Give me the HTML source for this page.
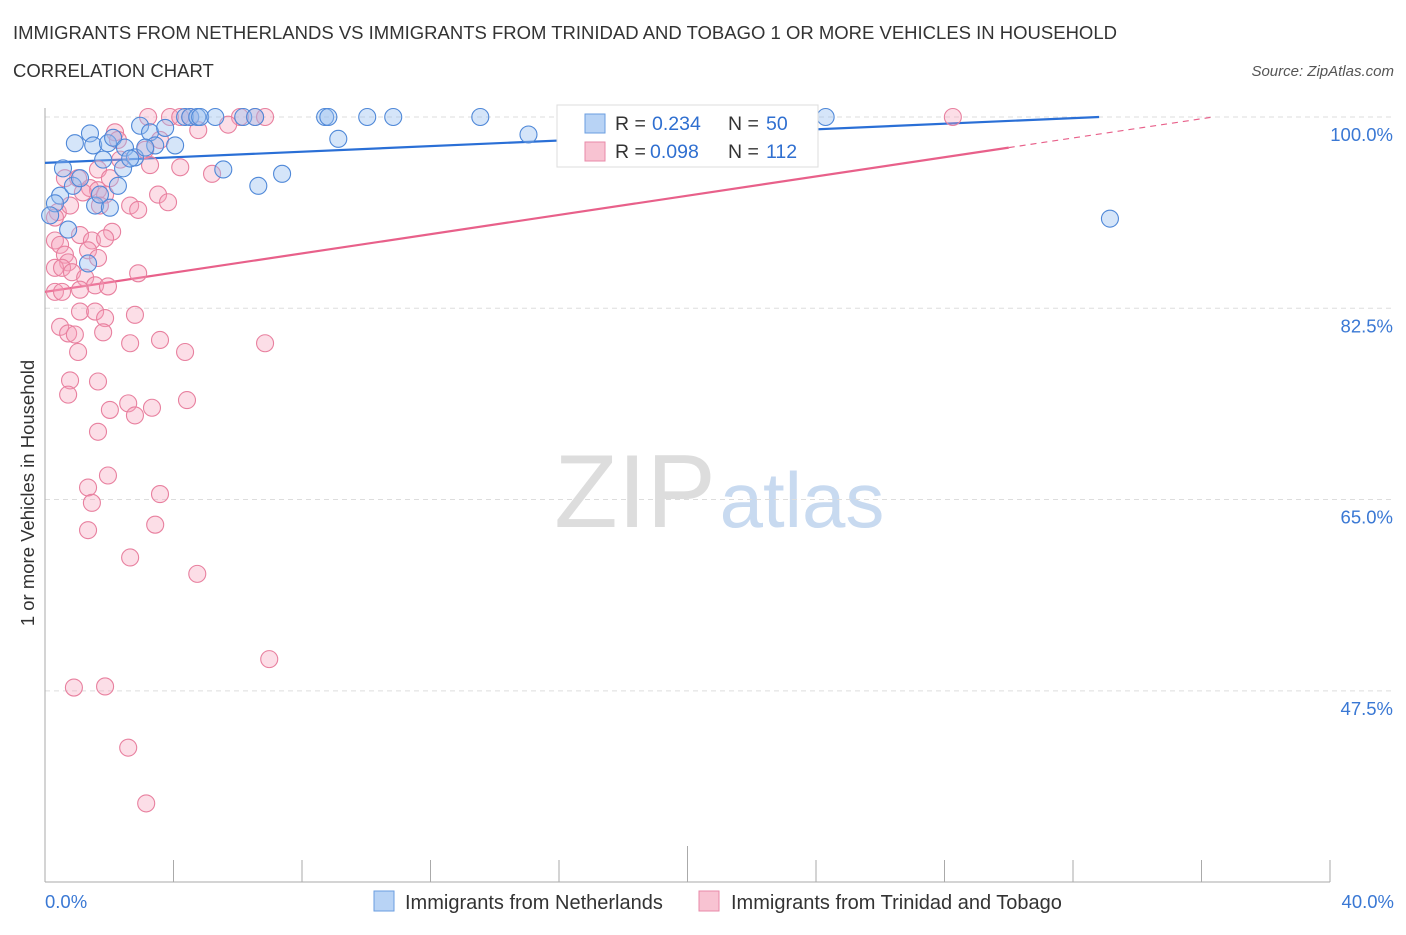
<!DOCTYPE html>
<html><head><meta charset="utf-8">
<style>
body{margin:0;background:#fff;font-family:"Liberation Sans",sans-serif;}
svg text{font-family:"Liberation Sans",sans-serif;}
</style></head>
<body>
<svg id="chart" width="1406" height="930" viewBox="0 0 1406 930" xmlns="http://www.w3.org/2000/svg">
<text x="13" y="39" font-size="18.5" fill="#333">IMMIGRANTS FROM NETHERLANDS VS IMMIGRANTS FROM TRINIDAD AND TOBAGO 1 OR MORE VEHICLES IN HOUSEHOLD</text>
<text x="13" y="77" font-size="18.5" fill="#333">CORRELATION CHART</text>
<text x="1394" y="76" font-size="15" font-style="italic" fill="#555" text-anchor="end">Source: ZipAtlas.com</text>
<text x="635" y="527" font-size="104" font-family="Liberation Serif" fill="#ddd" text-anchor="middle">ZIP</text>
<text x="802" y="527" font-size="78" fill="#c8daf0" text-anchor="middle">atlas</text>
<text transform="translate(34,493) rotate(-90)" font-size="18.5" fill="#333" text-anchor="middle">1 or more Vehicles in Household</text>
<g id="grid"></g><g id="axes"></g><g id="trend"></g><g id="pts"></g>
<g>
<rect x="557" y="105" width="261" height="62" fill="#fff" stroke="#ddd"/>
<rect x="585" y="114" width="20" height="19" fill="#b8d3f5" stroke="#6a9ee0"/>
<text x="615" y="130" font-size="19.5" fill="#333">R =</text>
<text x="652" y="130" font-size="19.5" fill="#2f6fd0">0.234</text>
<text x="728" y="130" font-size="19.5" fill="#333">N =</text>
<text x="766" y="130" font-size="19.5" fill="#2f6fd0">50</text>
<rect x="585" y="142" width="20" height="19" fill="#f8c3d2" stroke="#e88aa8"/>
<text x="615" y="158" font-size="19.5" fill="#333">R =</text>
<text x="650" y="158" font-size="19.5" fill="#2f6fd0">0.098</text>
<text x="728" y="158" font-size="19.5" fill="#333">N =</text>
<text x="766" y="158" font-size="19.5" fill="#2f6fd0">112</text>
</g>
<g>
<rect x="374" y="891" width="20" height="20" fill="#b8d3f5" stroke="#6a9ee0"/>
<text x="405" y="909" font-size="20" fill="#333">Immigrants from Netherlands</text>
<rect x="699" y="891" width="20" height="20" fill="#f8c3d2" stroke="#e88aa8"/>
<text x="731" y="909" font-size="20" fill="#333">Immigrants from Trinidad and Tobago</text>
</g>
</svg>
<script>
const xTicks=[0,4,8,12,16,20,24,28,32,36,40];
const yTicks=[100,82.5,65,47.5];
const yTickLabels=["100.0%","82.5%","65.0%","47.5%"];
const blueX=[0.56,0.47,0.31,0.93,1.40,1.50,1.96,2.12,2.49,2.80,2.96,3.27,3.43,3.74,4.05,1.81,2.43,2.27,0.87,1.56,2.02,0.72,1.34,4.36,4.52,4.74,4.83,5.30,6.17,6.54,8.72,8.82,10.03,10.84,13.55,16.51,24.30,9.13,15.05,6.64,7.38,5.55,33.15,0.16,1.09,1.71,2.65,3.12];
const blueY=[95.3,92.8,92.1,97.6,98.5,97.4,97.6,98.1,97.2,96.3,99.2,98.6,97.4,99.0,97.4,96.1,95.3,93.7,93.7,91.9,91.7,89.7,86.6,100,100,100,100,100,100,100,100,100,100,100,100,100,100,98.0,98.4,93.7,94.8,95.2,90.7,91.0,94.4,92.9,96.2,97.2];
const pinkX=[3.21,3.89,4.21,4.52,6.07,6.54,6.85,28.26,4.77,5.70,2.18,2.27,3.58,3.12,2.34,3.27,4.21,5.20,0.62,1.03,1.65,2.02,1.40,1.65,1.87,1.18,1.71,2.65,2.90,3.52,3.83,0.40,0.31,0.78,2.09,1.09,1.46,1.87,0.31,0.47,1.34,0.62,0.72,1.65,0.31,0.53,0.84,1.25,1.56,2.90,0.31,0.53,1.09,1.96,1.09,1.56,1.87,2.80,0.47,0.72,0.93,1.03,1.81,2.65,3.58,4.36,6.85,0.78,1.65,0.72,2.02,2.59,2.80,3.33,4.42,1.65,1.96,1.34,1.46,3.58,1.34,3.43,2.65,4.74,6.98,0.90,1.87,2.59,3.15];
const pinkY=[100,100,100,100,100,100,100,100,98.8,99.3,98.6,97.9,97.9,97.0,96.1,95.6,95.4,94.8,94.4,94.4,95.2,94.4,93.5,93.3,92.9,93.1,91.9,91.9,91.5,92.9,92.2,91.3,90.8,91.9,89.5,89.2,88.7,88.9,88.7,88.3,87.8,87.4,86.7,87.1,86.2,86.2,85.8,85.3,84.6,85.7,84.0,84.0,84.2,84.5,82.2,82.2,81.6,81.9,80.8,80.2,80.1,78.5,80.3,79.3,79.6,78.5,79.3,75.9,75.8,74.6,73.2,73.8,72.7,73.4,74.1,71.2,67.2,66.1,64.7,65.5,62.2,62.7,59.7,58.2,50.4,47.8,47.9,42.3,37.2];
const blueTrend=[95.8,0.128];
const pinkTrend=[84.0,0.44];
const NS="http://www.w3.org/2000/svg";
const X0=45,X1=1330,Y100=117,PPY=10.93;
function sx(v){return X0+(v/40)*(X1-X0);}
function sy(v){return Y100+(100-v)*PPY;}
function mk(tag,attrs,parent){const e=document.createElementNS(NS,tag);for(const k in attrs)e.setAttribute(k,attrs[k]);document.getElementById(parent).appendChild(e);return e;}
yTicks.forEach((t,i)=>{
 const g=mk('line',{x1:X0,x2:1395,y1:sy(t),y2:sy(t),stroke:'#ddd','stroke-dasharray':'5,4'},'grid');
 
 
 const l=mk('text',{x:1393,y:sy(t)+24,'font-size':18.5,fill:'#3a78d4','text-anchor':'end'},'grid');
 l.textContent=yTickLabels[i];
 
 
});
const ax=mk('line',{x1:X0,x2:X0,y1:108,y2:882,stroke:'#aaa'},'axes');


const bx=mk('line',{x1:X0,x2:X1,y1:882,y2:882,stroke:'#aaa'},'axes');


xTicks.forEach(t=>{
 const tk=mk('line',{x1:sx(t),x2:sx(t),y1:t===20?846:860,y2:882,stroke:'#aaa'},'axes');
 
 
});
[[0,'0.0%','start',45],[40,'40.0%','end',1394]].forEach(a=>{
 const l=mk('text',{x:a[3],y:908,'font-size':18.5,fill:'#3a78d4','text-anchor':a[2]},'axes');
 l.textContent=a[1];
 
 
});
function trend(tr,color,solidEnd,name){
 const f=x=>Math.min(100,tr[0]+tr[1]*x);
 let xc=(100-tr[0])/tr[1];
 const end=Math.min(40,xc);
 const s=mk('line',{x1:sx(0),y1:sy(f(0)),x2:sx(Math.min(solidEnd,end)),y2:sy(f(Math.min(solidEnd,end))),stroke:color,'stroke-width':2.2},'trend');
 
 
 if(solidEnd<end){
  const d=mk('line',{x1:sx(solidEnd),y1:sy(f(solidEnd)),x2:sx(end),y2:sy(f(end)),stroke:color,'stroke-width':1.2,'stroke-dasharray':'6,5'},'trend');
  
  
 }
}
pinkX.forEach((x,i)=>{
 const c=mk('circle',{cx:sx(x),cy:sy(pinkY[i]),r:8.5,fill:'rgba(245,160,185,0.35)',stroke:'#e8809f','stroke-width':1.1},'pts');
 
 
});
blueX.forEach((x,i)=>{
 const c=mk('circle',{cx:sx(x),cy:sy(blueY[i]),r:8.5,fill:'rgba(150,190,240,0.4)',stroke:'#4f88d8','stroke-width':1.1},'pts');
 
 
});
trend(blueTrend,'#2a6fd6',40,'netherlands');
trend(pinkTrend,'#e8608a',30,'trinidad');
</script>
</body></html>
